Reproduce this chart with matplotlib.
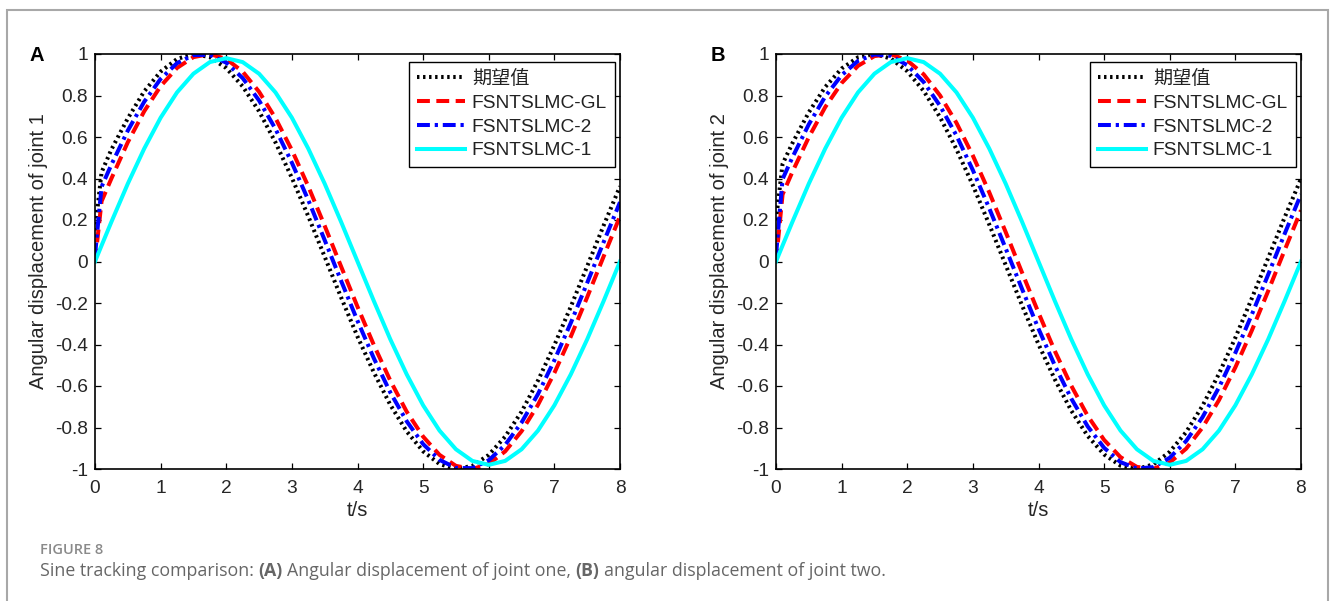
import matplotlib
matplotlib.use('Agg')
import matplotlib.pyplot as plt
from matplotlib.patches import Rectangle

plt.rcParams['axes.unicode_minus'] = False
plt.rcParams['font.family'] = ['Liberation Sans', 'Noto Sans CJK SC', 'DejaVu Sans']

# time samples (s)
t = [0, 0.1, 0.25, 0.5, 0.75, 1.0, 1.25, 1.5, 1.75, 2.0, 2.25, 2.5, 2.75, 3.0,
     3.25, 3.5, 3.75, 4.0, 4.25, 4.5, 4.75, 5.0, 5.25, 5.5, 5.75, 6.0, 6.25,
     6.5, 6.75, 7.0, 7.25, 7.5, 7.75, 8.0]

# joint 1 (panel A)
ref_1 = [0.15, 0.43, 0.54, 0.69, 0.82, 0.915, 0.976, 1.0, 0.985, 0.932, 0.844,
         0.724, 0.574, 0.403, 0.218, 0.023, -0.173, -0.362, -0.535, -0.691,
         -0.819, -0.915, -0.976, -1.0, -0.985, -0.932, -0.844, -0.724, -0.574,
         -0.403, -0.218, -0.023, 0.173, 0.362]
gl_1 = [0.0, 0.29, 0.40, 0.575, 0.724, 0.845, 0.933, 0.985, 1.0, 0.976, 0.915,
        0.818, 0.691, 0.537, 0.362, 0.172, -0.024, -0.218, -0.403, -0.574,
        -0.724, -0.844, -0.932, -0.985, -1.0, -0.976, -0.915, -0.818, -0.691,
        -0.537, -0.362, -0.172, 0.024, 0.218]
m2_1 = [0.03, 0.36, 0.467, 0.631, 0.77, 0.88, 0.956, 0.995, 0.996, 0.958, 0.884,
        0.776, 0.639, 0.476, 0.296, 0.103, -0.093, -0.286, -0.467, -0.631,
        -0.77, -0.88, -0.956, -0.995, -0.996, -0.958, -0.884, -0.776, -0.639,
        -0.476, -0.296, -0.103, 0.093, 0.286]
m1_1 = [0.0, 0.077, 0.191, 0.375, 0.544, 0.693, 0.815, 0.905, 0.961, 0.98, 0.961,
        0.905, 0.815, 0.693, 0.544, 0.375, 0.191, 0.0, -0.191, -0.375, -0.544,
        -0.693, -0.815, -0.905, -0.961, -0.98, -0.961, -0.905, -0.815, -0.693,
        -0.544, -0.375, -0.191, 0.0]

# joint 2 (panel B)
ref_2 = [0.2, 0.47, 0.57, 0.719, 0.841, 0.93, 0.984, 1.0, 0.978, 0.917, 0.822,
         0.695, 0.541, 0.367, 0.178, -0.017, -0.212, -0.399, -0.569, -0.719,
         -0.841, -0.93, -0.984, -1.0, -0.978, -0.917, -0.822, -0.695, -0.541,
         -0.367, -0.178, 0.017, 0.212, 0.399]
gl_2 = [0.0, 0.323, 0.432, 0.599, 0.744, 0.86, 0.943, 0.99, 0.999, 0.969, 0.902,
        0.8, 0.668, 0.51, 0.333, 0.142, -0.054, -0.247, -0.432, -0.599, -0.744,
        -0.86, -0.943, -0.99, -0.999, -0.969, -0.902, -0.8, -0.668, -0.51,
        -0.333, -0.142, 0.054, 0.247]
m2_2 = [0.03, 0.397, 0.502, 0.661, 0.795, 0.898, 0.967, 0.998, 0.991, 0.946,
        0.865, 0.75, 0.607, 0.44, 0.256, 0.063, -0.133, -0.324, -0.502, -0.661,
        -0.795, -0.898, -0.967, -0.998, -0.991, -0.946, -0.865, -0.75, -0.607,
        -0.44, -0.256, -0.063, 0.133, 0.324]
m1_2 = [0.0, 0.077, 0.191, 0.375, 0.544, 0.693, 0.815, 0.905, 0.961, 0.98, 0.961,
        0.905, 0.815, 0.693, 0.544, 0.375, 0.191, 0.0, -0.191, -0.375, -0.544,
        -0.693, -0.815, -0.905, -0.961, -0.98, -0.961, -0.905, -0.815, -0.693,
        -0.544, -0.375, -0.191, 0.0]

labels = ['期望值', 'FSNTSLMC-GL', 'FSNTSLMC-2', 'FSNTSLMC-1']
ylabels = ['Angular displacement of joint 1', 'Angular displacement of joint 2']
panels = ['A', 'B']
xticks = [0, 1, 2, 3, 4, 5, 6, 7, 8]
yticks = [-1, -0.8, -0.6, -0.4, -0.2, 0, 0.2, 0.4, 0.6, 0.8, 1]

W, H = 1330, 601
fig = plt.figure(figsize=(W / 100, H / 100), dpi=100)

# light grey frame round the figure
fig.patches.append(Rectangle((7 / W, -0.05), (1328 - 7) / W, 1.05 - 10 / H,
                             transform=fig.transFigure, fill=False,
                             edgecolor='#a8a8a8', lw=1.5))

data = [(ref_1, gl_1, m2_1, m1_1), (ref_2, gl_2, m2_2, m1_2)]
lefts = [95, 776]
lw = 2.9
txtcol = '#262626'

for i in range(2):
    ax = fig.add_axes([lefts[i] / W, 1 - 469 / H, 525 / W, 415 / H])
    ref, gl, m2, m1 = data[i]
    ax.plot(t, ref, color='black', lw=lw, linestyle=(0, (0.6, 0.9)), label=labels[0])
    ax.plot(t, gl, color='#ff0000', lw=lw, linestyle=(0, (3.2, 1.6)), label=labels[1])
    ax.plot(t, m2, color='#0000ff', lw=lw, linestyle=(0, (3.2, 1.2, 0.8, 1.2)), label=labels[2])
    ax.plot(t, m1, color='#00ffff', lw=lw, label=labels[3])

    ax.set_xlim(0, 8)
    ax.set_ylim(-1, 1)
    ax.set_xticks(xticks)
    ax.set_yticks(yticks)
    ax.set_xticklabels([str(v) for v in xticks])
    ax.set_yticklabels(['%g' % v for v in yticks])
    ax.tick_params(direction='in', top=True, right=True, length=4, width=0.9,
                   labelsize=13.8, labelcolor=txtcol)
    ax.tick_params(axis='x', pad=8)
    ax.tick_params(axis='y', pad=5)
    for sp in ax.spines.values():
        sp.set_linewidth(1.2)

    ax.set_xlabel('t/s', fontsize=14.5, color=txtcol, labelpad=3)
    ax.set_ylabel(ylabels[i], fontsize=14.5, color=txtcol)
    ax.yaxis.set_label_coords(-0.09, 0.525)

    leg = ax.legend(loc='upper right', bbox_to_anchor=(0.9905, 0.9807),
                    borderaxespad=0, fontsize=13.8, fancybox=False,
                    edgecolor='black', framealpha=1, handlelength=2.5,
                    handletextpad=0.35, labelspacing=0.33, borderpad=0.42)
    leg.get_frame().set_linewidth(1.0)
    for txt in leg.get_texts():
        txt.set_color('#222222')

    fig.text((lefts[i] - 65) / W, 1 - 61 / H, panels[i], fontsize=14.5,
             fontweight='bold', va='baseline', ha='left')

# caption
fig.text(40 / W, 1 - 554 / H, 'FIGURE 8', fontsize=10.5, color='#8a8a8a',
         family='Open Sans', fontweight='semibold', va='baseline')

parts = [('Sine tracking comparison:', 'normal'), ('(A)', 'bold'),
         ('Angular displacement of joint one,', 'normal'), ('(B)', 'bold'),
         ('angular displacement of joint two.', 'normal')]
renderer = fig.canvas.get_renderer()
x = 40
for txt, wt in parts:
    tx = fig.text(x / W, 1 - 576 / H, txt, fontsize=12.8, color='#666666',
                  family='Open Sans', fontweight=wt, va='baseline')
    x += tx.get_window_extent(renderer).width + 4.5

fig.savefig('out.png', dpi=100)
